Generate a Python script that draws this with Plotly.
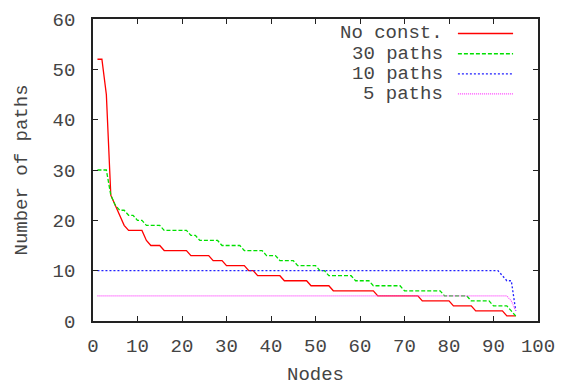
import plotly.graph_objects as go

nodes = list(range(1, 96))

no_const = [52, 52, 45, 25, 23, 21, 19, 18, 18, 18,
            18, 16, 15, 15, 15, 14, 14, 14, 14, 14,
            14, 13, 13, 13, 13, 13, 12, 12, 12, 11,
            11, 11, 11, 11, 10, 10, 9, 9, 9, 9,
            9, 9, 8, 8, 8, 8, 8, 8, 7, 7,
            7, 7, 7, 6, 6, 6, 6, 6, 6, 6,
            6, 6, 6, 5, 5, 5, 5, 5, 5, 5,
            5, 5, 5, 4, 4, 4, 4, 4, 4, 4,
            3, 3, 3, 3, 3, 2, 2, 2, 2, 2,
            2, 2, 1, 1, 1]

paths_30 = [30, 30, 30, 25, 23, 22, 22, 21, 21, 20,
            20, 19, 19, 19, 19, 18, 18, 18, 18, 18,
            18, 17, 17, 16, 16, 16, 16, 16, 15, 15,
            15, 15, 15, 14, 14, 14, 14, 14, 13, 13,
            13, 12, 12, 12, 12, 11, 11, 11, 11, 11,
            10, 10, 9, 9, 9, 9, 9, 9, 8, 8,
            8, 8, 7, 7, 7, 7, 7, 7, 7, 6,
            6, 6, 6, 6, 6, 6, 6, 6, 5, 5,
            5, 5, 5, 5, 4, 4, 4, 4, 4, 3,
            3, 3, 3, 2, 1]

paths_10 = [10, 10, 10, 10, 10, 10, 10, 10, 10, 10,
            10, 10, 10, 10, 10, 10, 10, 10, 10, 10,
            10, 10, 10, 10, 10, 10, 10, 10, 10, 10,
            10, 10, 10, 10, 10, 10, 10, 10, 10, 10,
            10, 10, 10, 10, 10, 10, 10, 10, 10, 10,
            10, 10, 10, 10, 10, 10, 10, 10, 10, 10,
            10, 10, 10, 10, 10, 10, 10, 10, 10, 10,
            10, 10, 10, 10, 10, 10, 10, 10, 10, 10,
            10, 10, 10, 10, 10, 10, 10, 10, 10, 10,
            10, 9, 8, 8, 2]

paths_5 = [5, 5, 5, 5, 5, 5, 5, 5, 5, 5,
           5, 5, 5, 5, 5, 5, 5, 5, 5, 5,
           5, 5, 5, 5, 5, 5, 5, 5, 5, 5,
           5, 5, 5, 5, 5, 5, 5, 5, 5, 5,
           5, 5, 5, 5, 5, 5, 5, 5, 5, 5,
           5, 5, 5, 5, 5, 5, 5, 5, 5, 5,
           5, 5, 5, 5, 5, 5, 5, 5, 5, 5,
           5, 5, 5, 5, 5, 5, 5, 5, 5, 5,
           5, 5, 5, 5, 5, 5, 5, 5, 5, 5,
           5, 5, 5, 4, 2]

series_names = ["No const.", "30 paths", "10 paths", "5 paths"]
x_ticks = [0, 10, 20, 30, 40, 50, 60, 70, 80, 90, 100]
y_ticks = [0, 10, 20, 30, 40, 50, 60]

FONT = "Liberation Mono, Courier New, monospace"
TXT = "#444"
styles = [
    dict(color="#ff0000", width=1.3, dash="solid"),
    dict(color="#00e000", width=1.3, dash="4px,2px"),
    dict(color="#2020ff", width=1.3, dash="2px,2px"),
    dict(color="#ff40ff", width=1.1, dash="1px,1px"),
]
data = [no_const, paths_30, paths_10, paths_5]

fig = go.Figure()
for name, vals, st in zip(series_names, data, styles):
    fig.add_trace(go.Scatter(x=nodes, y=vals, mode="lines", name=name,
                             line=st, showlegend=False))

# gnuplot-style legend: right-aligned text with line sample on the right
row_y = [0.952, 0.885, 0.818, 0.752]
for name, st, yy in zip(series_names, styles, row_y):
    fig.add_annotation(x=0.791, y=yy, xref="paper", yref="paper", text=name,
                       showarrow=False, xanchor="right", yanchor="middle",
                       font=dict(family=FONT, size=19, color=TXT))
    fig.add_shape(type="line", xref="paper", yref="paper",
                  x0=0.820, x1=0.944, y0=yy, y1=yy, line=st)

axis_common = dict(showline=True, linecolor="#222", linewidth=1.6, mirror="allticks",
                   ticks="inside", ticklen=5, tickcolor="#222", tickwidth=1,
                   showgrid=False, zeroline=False,
                   tickfont=dict(family=FONT, size=19, color=TXT))

fig.update_layout(
    width=576, height=391,
    margin=dict(l=93, r=38, t=10, b=67),
    paper_bgcolor="white", plot_bgcolor="white",
    xaxis=dict(range=[0, 100], tickvals=x_ticks, ticklabelstandoff=6,
               title=dict(text="Nodes", standoff=10,
                          font=dict(family=FONT, size=19, color=TXT)),
               **axis_common),
    yaxis=dict(range=[0, 60], tickvals=y_ticks, ticklabelstandoff=12,
               title=dict(text="Number of paths", standoff=20,
                          font=dict(family=FONT, size=19, color=TXT)),
               **axis_common),
)

fig.write_html("out.html")
